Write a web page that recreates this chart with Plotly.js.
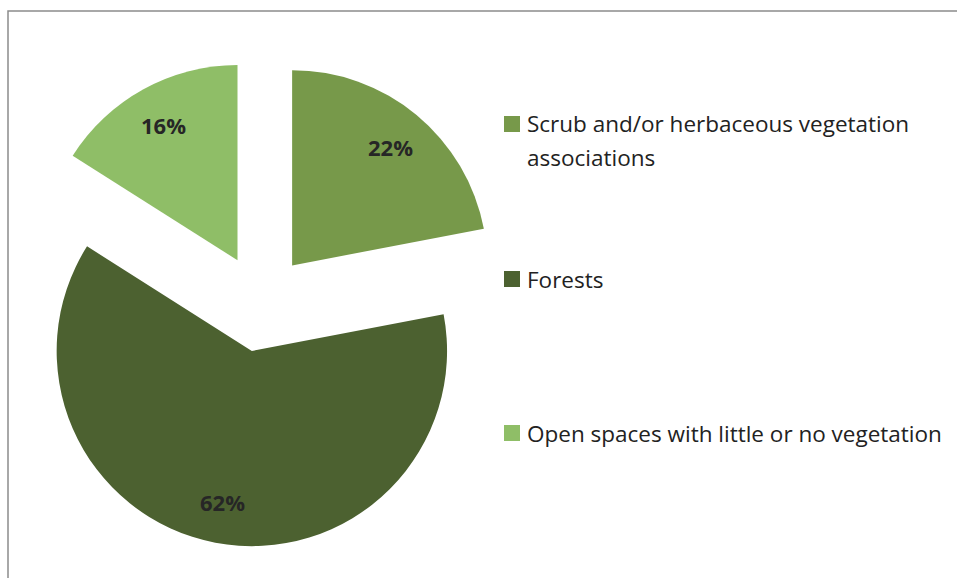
<!DOCTYPE html>
<html>
<head>
<meta charset="utf-8">
<script src="https://cdn.plot.ly/plotly-3.0.1.min.js"></script>
<style>html,body{margin:0;padding:0;background:#fff;}#chart{width:957px;height:578px;}</style>
</head>
<body>
<div id="chart"></div>
<script>
const labels = ["Scrub and/or herbaceous vegetation associations", "Forests", "Open spaces with little or no vegetation"];
const legendLines = [["Scrub and/or herbaceous vegetation", "associations"], ["Forests"], ["Open spaces with little or no vegetation"]];
const values = [22, 62, 16];
const colors = ["#77994A", "#4C6130", "#8FBE67"];

const W = 957, H = 578;
const FONT = "'Open Sans', Lato, 'Liberation Sans', sans-serif";
const PULL = 0.25;
const DOM = {x0: 17, x1: 505, y0: 59, y1: 547}; // pixel box of pie domain

const annotations = [];
const shapes = [{
  type: "rect", xref: "paper", yref: "paper",
  x0: 8 / W, x1: 1.05, y0: -0.05, y1: 1 - 11 / H,
  line: {color: "#8c8c8c", width: 1.5}, fillcolor: "rgba(0,0,0,0)"
}];

// legend (square + text lines)
const legendRows = [124, 279, 433];
const lineGap = 33;
legendLines.forEach((lines, i) => {
  const yc = legendRows[i];
  shapes.push({
    type: "rect", xref: "paper", yref: "paper",
    x0: 504 / W, x1: 520 / W, y0: 1 - (yc + 8) / H, y1: 1 - (yc - 8) / H,
    line: {width: 0}, fillcolor: colors[i]
  });
  lines.forEach((t, k) => {
    annotations.push({
      xref: "paper", yref: "paper", x: 525 / W, y: 1 - (yc + k * lineGap) / H,
      xanchor: "left", yanchor: "middle", align: "left", showarrow: false,
      text: t, font: {family: FONT, size: 22.5, color: "#222"}
    });
  });
});

// percentage labels placed along each slice's mid-angle
const total = values.reduce((a, b) => a + b, 0);
const cx = (DOM.x0 + DOM.x1) / 2, cy = (DOM.y0 + DOM.y1) / 2;
const R = (DOM.x1 - DOM.x0) / 2 / (1 + PULL);
let cum = 0;
values.forEach((v, i) => {
  const mid = (cum + v / 2) / total * 2 * Math.PI;
  cum += v;
  const dx = Math.sin(mid), dy = -Math.cos(mid);
  const px = cx + (PULL + 0.79) * R * dx;
  const py = cy + (PULL + 0.79) * R * dy;
  annotations.push({
    xref: "paper", yref: "paper", x: px / W, y: 1 - py / H,
    xanchor: "center", yanchor: "middle", showarrow: false,
    text: "<b>" + Math.round(v / total * 100) + "%</b>",
    font: {family: FONT, size: 22, color: "#262626"}
  });
});

const data = [{
  type: "pie",
  labels: labels,
  values: values,
  sort: false,
  direction: "clockwise",
  rotation: 0,
  pull: values.map(() => PULL),
  marker: {colors: colors, line: {width: 0}},
  textinfo: "none",
  hoverinfo: "label+percent",
  domain: {x: [DOM.x0 / W, DOM.x1 / W], y: [1 - DOM.y1 / H, 1 - DOM.y0 / H]},
  showlegend: false
}];

const layout = {
  width: W, height: H,
  margin: {l: 0, r: 0, t: 0, b: 0},
  paper_bgcolor: "#fff",
  showlegend: false,
  shapes: shapes,
  annotations: annotations,
  font: {family: FONT}
};
Plotly.newPlot("chart", data, layout, {displayModeBar: false, staticPlot: true});
</script>
</body>
</html>
